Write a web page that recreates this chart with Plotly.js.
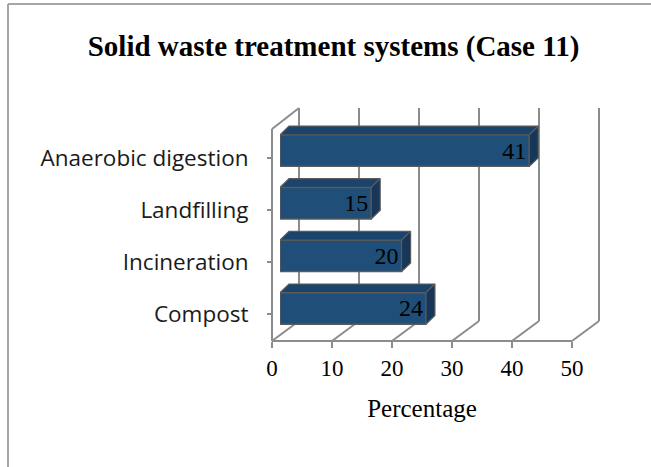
<!DOCTYPE html>
<html>
<head>
<meta charset="utf-8">
<script src="https://cdn.plot.ly/plotly-3.0.1.min.js"></script>
<style>html,body{margin:0;padding:0;background:#fff;}#chart{width:651px;height:467px;}</style>
</head>
<body>
<div id="chart"></div>
<script>
// ---- data ----
const categories = ["Compost", "Incineration", "Landfilling", "Anaerobic digestion"];
const values = [24, 20, 15, 41];
const xTicks = [0, 10, 20, 30, 40, 50];
const chartTitle = "Solid waste treatment systems (Case 11)";
const xTitle = "Percentage";

// ---- geometry helpers (pixel -> paper) ----
const W = 651, H = 467;
const px = x => x / W;
const py = y => 1 - y / H;
const idx = categories.map((c, i) => i);

// 3D styling constants
const barHalf = 0.3;          // half bar thickness (category units)
const depthX = 1.48;          // depth offset in value units
const depthY = 0.165;         // depth offset in category units
const lineCol = "#8c8c8c";
const edgeCol = "#5a5a5a";

const traces = [];
traces.push({
  type: "bar", orientation: "h", x: values, y: idx, width: barHalf * 2,
  marker: {color: "#1F4E79", line: {color: edgeCol, width: 1.5}},
  text: values.map(String), textposition: "inside", insidetextanchor: "end",
  textangle: 0, constraintext: "none",
  textfont: {family: "Liberation Serif", size: 24, color: "#000"},
  hoverinfo: "skip", showlegend: false, xaxis: "x", yaxis: "y"
});
// top and side faces, derived from the same values
values.forEach((v, i) => {
  traces.push({
    type: "scatter", mode: "lines", fill: "toself", fillcolor: "#1b446c",
    x: [0, depthX, v + depthX, v, 0],
    y: [i + barHalf, i + barHalf + depthY, i + barHalf + depthY, i + barHalf, i + barHalf],
    line: {color: edgeCol, width: 1.2}, hoverinfo: "skip", showlegend: false, xaxis: "x", yaxis: "y"
  });
  traces.push({
    type: "scatter", mode: "lines", fill: "toself", fillcolor: "#16375a",
    x: [v, v + depthX, v + depthX, v, v],
    y: [i + barHalf, i + barHalf + depthY, i - barHalf + depthY, i - barHalf, i + barHalf],
    line: {color: edgeCol, width: 1.2}, hoverinfo: "skip", showlegend: false, xaxis: "x", yaxis: "y"
  });
});
// invisible carrier for the front value axis and the category axis
traces.push({
  type: "scatter", mode: "markers", x: values, y: idx, marker: {opacity: 0},
  hoverinfo: "skip", showlegend: false, xaxis: "x2", yaxis: "y2"
});

// wall / floor decoration lines
const frontY = 341, backY = 321, topY = 108, depthPX = 27;
const frontX = t => 272 + t * 6;
const shapes = [];
xTicks.forEach(t => {
  const xb = frontX(t) + depthPX;
  shapes.push({type: "line", xref: "paper", yref: "paper", layer: "below",
    x0: px(xb), x1: px(xb), y0: py(backY), y1: py(topY), line: {color: lineCol, width: 2}});
  shapes.push({type: "line", xref: "paper", yref: "paper", layer: "below",
    x0: px(frontX(t)), x1: px(xb), y0: py(frontY), y1: py(backY), line: {color: lineCol, width: 2}});
});
// left wall front edge and its top
shapes.push({type: "line", xref: "paper", yref: "paper", layer: "below",
  x0: px(272), x1: px(272), y0: py(frontY), y1: py(129), line: {color: lineCol, width: 2}});
shapes.push({type: "line", xref: "paper", yref: "paper", layer: "below",
  x0: px(272), x1: px(272 + depthPX), y0: py(129), y1: py(topY), line: {color: lineCol, width: 2}});
// outer chart frame
shapes.push({type: "line", xref: "paper", yref: "paper", x0: px(8), x1: px(8), y0: py(4), y1: 0,
  line: {color: "#a6a6a6", width: 2}});
shapes.push({type: "line", xref: "paper", yref: "paper", x0: px(8), x1: 1, y0: py(4), y1: py(4),
  line: {color: "#a6a6a6", width: 2}});

const layout = {
  width: W, height: H, margin: {l: 0, r: 0, t: 0, b: 0},
  paper_bgcolor: "#fff", plot_bgcolor: "rgba(0,0,0,0)", showlegend: false,
  title: {text: chartTitle, x: px(333.5), xanchor: "center", y: py(46), yanchor: "middle",
    font: {family: "Liberation Serif", size: 29, color: "#000", weight: "bold"}},
  xaxis: {domain: [px(280), px(584)], range: [0, 50], anchor: "y", visible: false, fixedrange: true},
  yaxis: {domain: [py(334.8), py(124.2)], range: [-0.5, 3.5], anchor: "x", visible: false, fixedrange: true},
  xaxis2: {domain: [px(272), px(572)], range: [0, 50], anchor: "free", position: py(frontY),
    tickvals: xTicks, ticktext: xTicks.map(String), ticks: "outside", ticklen: 6, tickwidth: 2,
    tickcolor: lineCol, showline: true, linecolor: lineCol, linewidth: 2, showgrid: false, zeroline: false,
    tickfont: {family: "Liberation Serif", size: 23, color: "#000"},
    title: {text: xTitle, font: {family: "Liberation Serif", size: 25, color: "#000"}, standoff: 19},
    fixedrange: true},
  yaxis2: {domain: [py(340), py(132)], range: [-0.5, 3.5], anchor: "free", position: px(272), side: "left",
    tickvals: idx, ticktext: categories, ticks: "outside", ticklen: 5, tickwidth: 2, tickcolor: lineCol,
    showline: false, showgrid: false, zeroline: false, ticklabelstandoff: 14,
    tickfont: {family: "Open Sans", size: 22.5, color: "#1a1a1a"}, fixedrange: true},
  shapes: shapes
};
Plotly.newPlot("chart", traces, layout, {displayModeBar: false, staticPlot: true});
</script>
</body>
</html>
